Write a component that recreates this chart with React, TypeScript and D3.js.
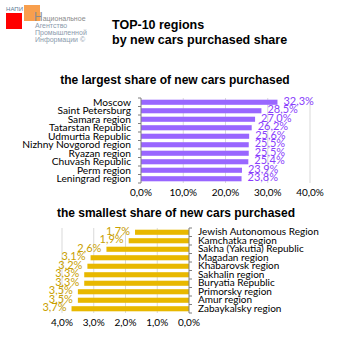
import * as d3 from 'd3';

const topRegions = [
  'Moscow',
  'Saint Petersburg',
  'Samara region',
  'Tatarstan Republic',
  'Udmurtia Republic',
  'Nizhny Novgorod region',
  'Ryazan region',
  'Chuvash Republic',
  'Perm region',
  'Leningrad region',
];
const topShares = [32.3, 28.5, 27.0, 26.2, 25.6, 25.5, 25.5, 25.4, 23.9, 23.8];
const topTicks = [0, 10, 20, 30, 40];

const bottomRegions = [
  'Jewish Autonomous Region',
  'Kamchatka region',
  'Sakha (Yakutia) Republic',
  'Magadan region',
  'Khabarovsk region',
  'Sakhalin region',
  'Buryatia Republic',
  'Primorsky region',
  'Amur region',
  'Zabaykalsky region',
];
const bottomShares = [1.7, 1.9, 2.6, 3.1, 3.2, 3.3, 3.3, 3.5, 3.5, 3.7];
const bottomTicks = [0, 1, 2, 3, 4];

const fmt = (v: number) => v.toFixed(1).replace('.', ',') + '%';
const labelFont = 'Lato, "DejaVu Sans Condensed", sans-serif';
const titleFont = '"Liberation Sans", Arial, sans-serif';

export default function App() {
  const xTop = d3.scaleLinear().domain([0, 40]).range([141, 310]);
  const yTop = d3.scaleBand().domain(topRegions).range([98, 183]).paddingInner(0.4).paddingOuter(0.2);

  const xBot = d3.scaleLinear().domain([0, 4]).range([189, 62]);
  const yBot = d3.scaleBand().domain(bottomRegions).range([228, 313]).paddingInner(0.4).paddingOuter(0.2);

  const stepTop = yTop.step();
  const stepBot = yBot.step();

  return (
    <svg
      width={353}
      height={353}
      style={{ position: 'absolute', left: 0, top: 0, background: '#fff' }}
    >
      {/* logo */}
      <text x={6} y={11} fontSize={6} fontFamily={titleFont} fill="#5b7896" textLength={17}>НАПИ</text>
      <rect x={6} y={13} width={16} height={16} fill="#ff0000" />
      <rect x={24} y={5} width={16} height={16} fill="#f7953a" opacity={0.9} />
      <text x={34} y={21} fontFamily={titleFont} fill="#8a8a8a">
        <tspan fontSize={12}>Н</tspan>
        <tspan fontSize={7}>ациональное</tspan>
      </text>
      <text x={35} y={27.5} fontSize={7} fontFamily={titleFont} fill="#8a9aac">Агентство</text>
      <text x={35} y={34.5} fontSize={7} fontFamily={titleFont} fill="#8a9aac">Промышленной</text>
      <text x={35} y={42} fontSize={7} fontFamily={titleFont} fill="#8a9aac">Информации ©</text>

      {/* main title */}
      <text x={112} y={29} fontSize={12.5} fontWeight="bold" fontFamily={titleFont} fill="#000">TOP-10 regions</text>
      <text x={112} y={44} fontSize={12.5} fontWeight="bold" fontFamily={titleFont} fill="#000">by new cars purchased share</text>

      {/* top chart */}
      <text x={175} y={84} textAnchor="middle" fontSize={12} fontWeight="bold" fontFamily={titleFont} fill="#000">
        the largest share of new cars purchased
      </text>
      {topTicks.slice(1).map((t) => (
        <line key={t} x1={xTop(t)} x2={xTop(t)} y1={98} y2={183} stroke="#d9d9d9" strokeWidth={1} />
      ))}
      {topRegions.map((r, i) => (
        <g key={r}>
          <rect
            x={xTop(0)}
            y={yTop(r)!}
            width={xTop(topShares[i]) - xTop(0)}
            height={yTop.bandwidth()}
            fill="#9966ff"
          />
          <text
            x={131}
            y={yTop(r)! + yTop.bandwidth() / 2}
            dy="0.32em"
            textAnchor="end"
            fontSize={10.2}
            fontFamily={labelFont}
            fill="#000"
          >
            {r}
          </text>
          <text
            x={xTop(topShares[i]) + 6}
            y={yTop(r)! + yTop.bandwidth() / 2 - 1}
            dy="0.32em"
            fontSize={11}
            fontFamily={labelFont}
            fill="#8a3ffc"
          >
            {fmt(topShares[i])}
          </text>
        </g>
      ))}
      <line x1={141} x2={141} y1={98} y2={183} stroke="#7f7f7f" />
      {d3.range(topRegions.length + 1).map((i) => (
        <line key={i} x1={138} x2={141} y1={98 + i * stepTop} y2={98 + i * stepTop} stroke="#7f7f7f" />
      ))}
      {topTicks.map((t) => (
        <text
          key={t}
          x={xTop(t)}
          y={193}
          dy="0.32em"
          textAnchor="middle"
          fontSize={10}
          fontFamily={labelFont}
          fill="#000"
        >
          {fmt(t)}
        </text>
      ))}

      {/* bottom chart */}
      <text x={176} y={217} textAnchor="middle" fontSize={12} fontWeight="bold" fontFamily={titleFont} fill="#000">
        the smallest share of new cars purchased
      </text>
      {bottomTicks.slice(1).map((t) => (
        <line key={t} x1={xBot(t)} x2={xBot(t)} y1={228} y2={313} stroke="#d9d9d9" strokeWidth={1} />
      ))}
      {bottomRegions.map((r, i) => (
        <g key={r}>
          <rect
            x={xBot(bottomShares[i])}
            y={yBot(r)!}
            width={xBot(0) - xBot(bottomShares[i])}
            height={yBot.bandwidth()}
            fill="#e8b800"
          />
          <text
            x={198}
            y={yBot(r)! + yBot.bandwidth() / 2}
            dy="0.32em"
            fontSize={10}
            fontFamily={labelFont}
            fill="#000"
          >
            {r}
          </text>
          <text
            x={xBot(bottomShares[i]) - 5}
            y={yBot(r)! + yBot.bandwidth() / 2 - 1}
            dy="0.32em"
            textAnchor="end"
            fontSize={11}
            fontFamily={labelFont}
            fill="#c9a000"
          >
            {fmt(bottomShares[i])}
          </text>
        </g>
      ))}
      <line x1={189} x2={189} y1={228} y2={313} stroke="#7f7f7f" />
      {d3.range(bottomRegions.length + 1).map((i) => (
        <line key={i} x1={189} x2={192} y1={228 + i * stepBot} y2={228 + i * stepBot} stroke="#7f7f7f" />
      ))}
      {bottomTicks.map((t) => (
        <text
          key={t}
          x={xBot(t)}
          y={323}
          dy="0.32em"
          textAnchor="middle"
          fontSize={10}
          fontFamily={labelFont}
          fill="#000"
        >
          {fmt(t)}
        </text>
      ))}
    </svg>
  );
}
